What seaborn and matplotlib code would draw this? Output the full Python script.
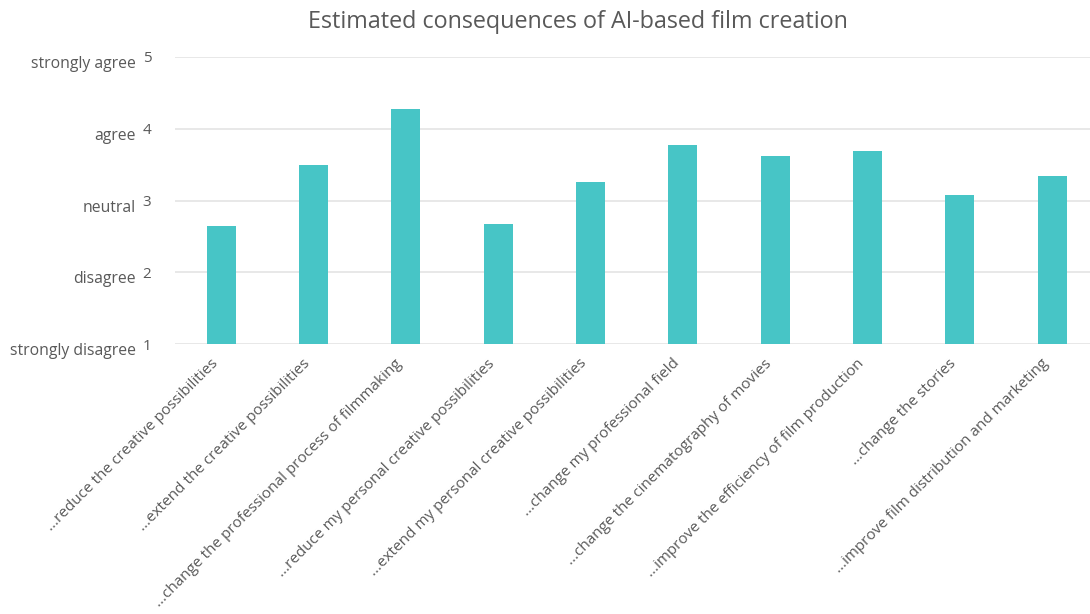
import matplotlib
matplotlib.use("Agg")
import matplotlib.pyplot as plt
import matplotlib.transforms as mtransforms
import seaborn as sns
import pandas as pd

# Survey statements and mean agreement scores (1 = strongly disagree, 5 = strongly agree)
statements = [
    "...reduce the creative possibilities",
    "...extend the creative possibilities",
    "...change the professional process of filmmaking",
    "...reduce my personal creative possibilities",
    "...extend my personal creative possibilities",
    "...change my professional field",
    "...change the cinematography of movies",
    "...improve the efficiency of film production",
    "...change the stories",
    "...improve film distribution and marketing",
]
mean_scores = [2.64, 3.50, 4.28, 2.67, 3.26, 3.78, 3.62, 3.69, 3.07, 3.34]

scale_values = [1, 2, 3, 4, 5]
scale_labels = ["strongly disagree", "disagree", "neutral", "agree", "strongly agree"]

BAR_COLOR = "#47C5C6"
TEXT_COLOR = "#595959"
GRID_COLOR = "#e4e4e4"

sns.set_theme(style="white")
plt.rcParams["font.family"] = ["Open Sans", "DejaVu Sans"]

df = pd.DataFrame({"statement": statements, "score": mean_scores})

fig = plt.figure(figsize=(10.9, 6.14), dpi=100)
ax = fig.add_axes([175 / 1090, 270 / 614, (1090 - 175) / 1090, 287 / 614])

sns.barplot(data=df, x="statement", y="score", color=BAR_COLOR, width=0.315,
            ax=ax, saturation=1, zorder=3)
# bars rise from the bottom of the scale (1)
for patch in ax.patches:
    h = patch.get_height()
    patch.set_y(1)
    patch.set_height(h - 1)
    patch.set_edgecolor("none")

ax.set_ylim(1, 5)
ax.set_xlim(-0.5, 9.41)
ax.set_yticks(scale_values)
ax.set_yticklabels([str(v) for v in scale_values], fontsize=11, color=TEXT_COLOR)
ax.tick_params(axis="y", length=0, pad=17)
ax.tick_params(axis="x", length=0, pad=8)
ax.grid(axis="y", color=GRID_COLOR, linewidth=1.2, zorder=0)
for s in ax.spines.values():
    s.set_visible(False)

ax.set_xlabel("")
ax.set_ylabel("")
ax.set_xticks(range(len(statements)))
ax.set_xticklabels(statements, rotation=45, ha="right", rotation_mode="anchor",
                   fontsize=11, color=TEXT_COLOR)
shift = mtransforms.ScaledTranslation(-11 / 100, -1 / 100, fig.dpi_scale_trans)
for lbl in ax.get_xticklabels():
    lbl.set_transform(lbl.get_transform() + shift)

# verbal scale labels to the left of the numeric ticks
trans = mtransforms.blended_transform_factory(fig.transFigure, ax.transData)
offset = mtransforms.ScaledTranslation(0, -7 / 100, fig.dpi_scale_trans)
for v, lab in zip(scale_values, scale_labels):
    fig.text(136 / 1090, v, lab, transform=trans + offset, ha="right", va="center",
             fontsize=11.3, color=TEXT_COLOR)

fig.text(578 / 1090, 1 - 22 / 614, "Estimated consequences of AI-based film creation",
         ha="center", va="center", fontsize=16.8, color=TEXT_COLOR)

fig.savefig("out.png", dpi=100, facecolor="white")
